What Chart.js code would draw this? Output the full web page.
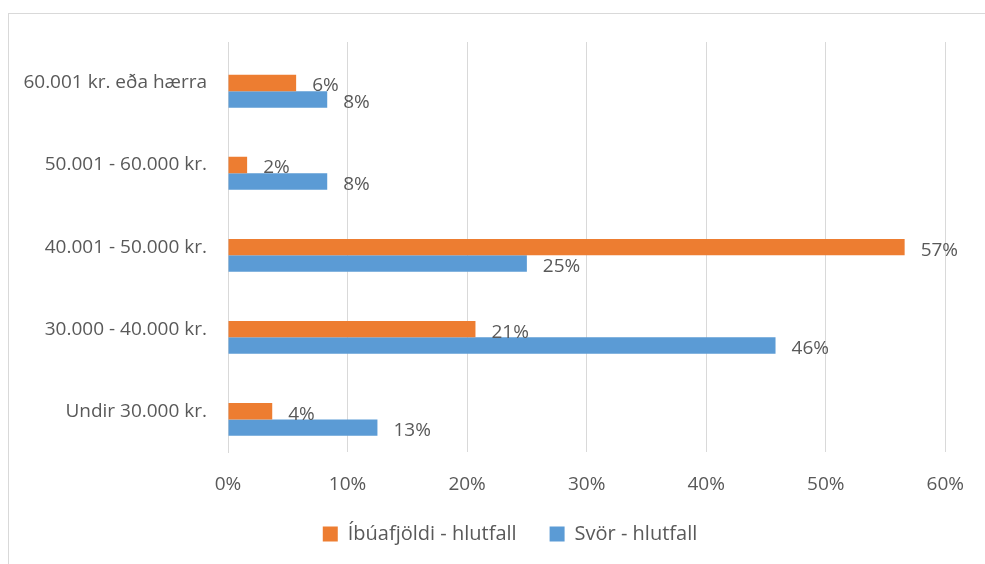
<!DOCTYPE html>
<html lang="is">
<head>
    <meta charset="UTF-8">
    <title>Hlutfall eftir tekjum</title>
    <script src="https://cdn.jsdelivr.net/npm/chart.js"></script>
    <style>
        html, body { margin: 0; padding: 0; background: #fff; }
        body { width: 985px; height: 564px; position: relative; overflow: hidden; }
        .frame { position: absolute; left: 8px; top: 13px; width: 1000px; height: 600px; border: 1px solid #d9d9d9; }
        .wrap { position: absolute; left: 0; top: 0; width: 985px; height: 564px; }
    </style>
</head>
<body>
    <div class="frame"></div>
    <div class="wrap"><canvas id="chart" width="985" height="564"></canvas></div>

    <script>
        // Data
        const categories = ['60.001 kr. eða hærra', '50.001 - 60.000 kr.', '40.001 - 50.000 kr.', '30.000 - 40.000 kr.', 'Undir 30.000 kr.'];
        const ibuafjoldi = [5.7, 1.6, 56.6, 20.7, 3.7];
        const svor = [8.3, 8.3, 25.0, 45.8, 12.5];
        const emptySeries = [null, null, null, null, null]; // hidden series in the original, keeps the bar offset
        const xTicks = [0, 10, 20, 30, 40, 50, 60];

        const textColor = '#595959';
        const fontFamily = '"Open Sans", sans-serif';
        const fontSize = 19;

        // draw value labels just right of each bar
        const valueLabels = {
            id: 'valueLabels',
            afterLayout(chart) {
                // legend sits centred on the frame, a bit higher than Chart.js puts it
                const lg = chart.legend;
                lg.left += 33;
                lg.right += 33;
                lg.top -= 26;
                lg.bottom -= 26;
            },
            afterDatasetsDraw(chart) {
                const ctx = chart.ctx;
                ctx.save();
                ctx.font = fontSize + 'px ' + fontFamily;
                ctx.fillStyle = textColor;
                ctx.textAlign = 'left';
                ctx.textBaseline = 'middle';
                chart.data.datasets.forEach((ds, i) => {
                    if (ds.hiddenSeries) return;
                    chart.getDatasetMeta(i).data.forEach((bar, j) => {
                        const v = ds.data[j];
                        if (v == null) return;
                        ctx.fillText(Math.round(v) + '%', bar.x + 16, bar.y + 3);
                    });
                });
                ctx.restore();
            }
        };

        const ctx = document.getElementById('chart').getContext('2d');
        new Chart(ctx, {
            type: 'bar',
            data: {
                labels: categories,
                datasets: [
                    { label: '', data: emptySeries, hiddenSeries: true, backgroundColor: 'rgba(0,0,0,0)' },
                    { label: 'Íbúafjöldi - hlutfall', data: ibuafjoldi, backgroundColor: '#ED7D31' },
                    { label: 'Svör - hlutfall', data: svor, backgroundColor: '#5B9BD5' }
                ]
            },
            options: {
                indexAxis: 'y',
                responsive: false,
                animation: false,
                devicePixelRatio: 1,
                categoryPercentage: 0.6,
                barPercentage: 1.0,
                layout: { padding: { top: 42, right: 31, left: 0, bottom: -16 } },
                scales: {
                    x: {
                        min: 0,
                        max: 60,
                        afterBuildTicks: (scale) => { scale.ticks = xTicks.map(v => ({ value: v })); },
                        ticks: {
                            color: textColor,
                            font: { family: fontFamily, size: fontSize },
                            padding: 21,
                            maxRotation: 0,
                            callback: (v) => v + '%'
                        },
                        grid: { color: '#d9d9d9', lineWidth: 1, drawTicks: false },
                        border: { display: false }
                    },
                    y: {
                        afterFit: (scale) => { scale.width = 228; },
                        ticks: {
                            color: textColor,
                            font: { family: fontFamily, size: fontSize },
                            padding: 21
                        },
                        grid: { display: false, drawTicks: false },
                        border: { display: true, color: '#d9d9d9' }
                    }
                },
                plugins: {
                    legend: {
                        position: 'bottom',
                        labels: {
                            color: textColor,
                            font: { family: fontFamily, size: 20 },
                            boxWidth: 15,
                            boxHeight: 15,
                            padding: 33,
                            filter: (item, data) => !data.datasets[item.datasetIndex].hiddenSeries
                        }
                    },
                    tooltip: { enabled: false }
                }
            },
            plugins: [valueLabels]
        });
    </script>
</body>
</html>
